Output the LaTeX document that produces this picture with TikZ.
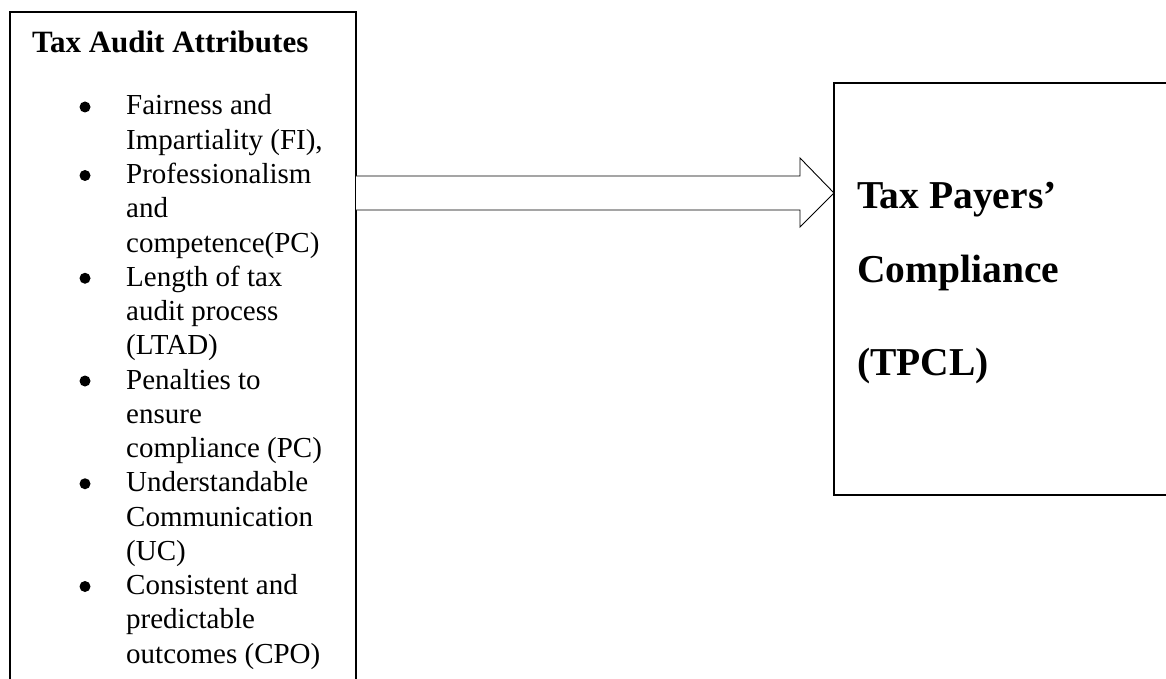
\documentclass[tikz,border=0pt]{standalone}
\usepackage{fontspec}
\setmainfont{Liberation Serif}
\begin{document}
\begin{tikzpicture}[x=1pt,y=-1pt,
  boxframe/.style={draw=black,line width=2pt,inner sep=0pt,fill=none},
  bodytxt/.style={anchor=base west,inner sep=0pt,font=\fontsize{29}{34}\selectfont},
  titletxt/.style={anchor=base west,inner sep=0pt,font=\fontsize{31}{36}\selectfont\bfseries},
  bigtxt/.style={anchor=base west,inner sep=0pt,font=\fontsize{39.5}{46}\selectfont\bfseries},
  bulletdot/.style={circle,fill=black,inner sep=0pt,minimum size=11pt},
  arrowshape/.style={draw=black,line width=0.9pt,fill=white,line join=miter}]
\useasboundingbox (0,0) rectangle (1166,679);
\fill[white] (0,0) rectangle (1166,679);
% boxes
\draw[line width=2pt] (10,720) -- (10,12) -- (356,12) -- (356,720);
\coordinate (lboxE) at (356,193);
\draw[line width=2pt] (1200,83) -- (834,83) -- (834,495) -- (1200,495);
\coordinate (tip) at (834,193);
% arrow
\draw[arrowshape] (lboxE |- 0,176) -- (800,176) -- (800,158) -- (tip) -- (800,227) -- (800,210) -- (lboxE |- 0,210);
% title
\node[titletxt] (title) at (32,52.7) {Tax Audit Attributes};
% bullets and lines
\def\pitch{34.25}
\node[bodytxt] (t1) at (126,115) {Fairness and};
\node[bodytxt] (t2) at (126,115+1*\pitch) {Impartiality (FI),};
\node[bodytxt] (t3) at (126,115+2*\pitch) {Professionalism};
\node[bodytxt] (t4) at (126,115+3*\pitch) {and};
\node[bodytxt] (t5) at (126,115+4*\pitch) {competence(PC)};
\node[bodytxt] (t6) at (126,115+5*\pitch) {Length of tax};
\node[bodytxt] (t7) at (126,115+6*\pitch) {audit process};
\node[bodytxt] (t8) at (126,115+7*\pitch) {(LTAD)};
\node[bodytxt] (t9) at (126,115+8*\pitch) {Penalties to};
\node[bodytxt] (t10) at (126,115+9*\pitch) {ensure};
\node[bodytxt] (t11) at (126,115+10*\pitch) {compliance (PC)};
\node[bodytxt] (t12) at (126,115+11*\pitch) {Understandable};
\node[bodytxt] (t13) at (126,115+12*\pitch) {Communication};
\node[bodytxt] (t14) at (126,115+13*\pitch) {(UC)};
\node[bodytxt] (t15) at (126,115+14*\pitch) {Consistent and};
\node[bodytxt] (t16) at (126,115+15*\pitch) {predictable};
\node[bodytxt] (t17) at (126,115+16*\pitch) {outcomes (CPO)};
\foreach \k/\n in {0/b1,2/b2,5/b3,8/b4,11/b5,14/b6}
  \node[bulletdot] (\n) at (85,115+\k*\pitch-8) {};
% right text
\node[bigtxt] (r1) at (857,208) {Tax Payers’};
\node[bigtxt] (r2) at (857,282) {Compliance};
\node[bigtxt] (r3) at (857,375) {(TPCL)};
\end{tikzpicture}
\end{document}
